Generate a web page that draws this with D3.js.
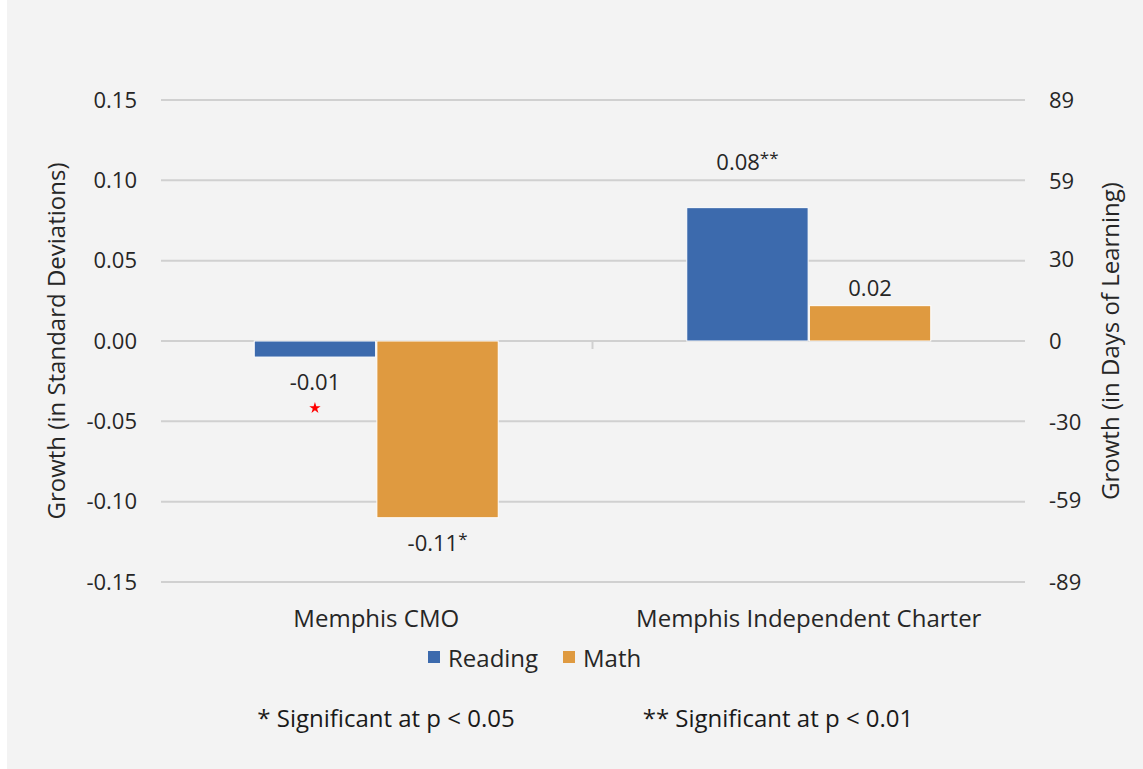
<!DOCTYPE html>
<html>
<head>
<meta charset="utf-8">
<script src="https://cdn.jsdelivr.net/npm/d3@7"></script>
<style>
  body { margin: 0; background: #ffffff; }
  svg { display: block; font-family: "Open Sans", "Noto Sans", sans-serif; }
</style>
</head>
<body>
<svg id="chart" width="1143" height="769"></svg>
<script>
var categories = ['Memphis CMO', 'Memphis Independent Charter']
var series = ['Reading', 'Math']
var reading = [-0.01, 0.083]
var math = [-0.11, 0.022]
var labels = {
  Reading: ['-0.01', '0.08**'],
  Math: ['-0.11*', '0.02']
}
var sdTicks = [-0.15, -0.10, -0.05, 0, 0.05, 0.10, 0.15]
var dayTicks = [-89, -59, -30, 0, 30, 59, 89]
var colors = { Reading: '#3c6aad', Math: '#df9a40' }

var margin = { top: 100, right: 118, bottom: 187, left: 160 }
var width = 1143 - margin.left - margin.right,
    height = 769 - margin.top - margin.bottom;

var svg = d3.select('#chart')
svg.append('rect').attr('x', 7).attr('y', 0).attr('width', 1136).attr('height', 769).attr('fill', '#f3f3f3')

var chart = svg.append('g')
    .attr('transform', `translate(${margin.left}, ${margin.top})`);

var y = d3.scaleLinear().domain([-0.15, 0.15]).range([height, 0])
var yDays = d3.scaleLinear().domain([-89, 89]).range([height, 0])

var x = d3.scaleBand().domain(categories).range([0, width])
var xInner = d3.scaleBand().domain(series).range([0, 244]).paddingInner(0.01)

// gridlines
chart.selectAll('.grid')
    .data(sdTicks)
    .enter().append('line')
    .attr('x1', 1).attr('x2', width)
    .attr('y1', function(d) { return y(d); })
    .attr('y2', function(d) { return y(d); })
    .attr('stroke', '#d0d0d0').attr('stroke-width', 2)

// category separator tick on zero line
chart.append('line')
    .attr('x1', x.step()).attr('x2', x.step())
    .attr('y1', y(0)).attr('y2', y(0) + 8)
    .attr('stroke', '#d0d0d0').attr('stroke-width', 2)

var hyphen = function(s) { return s.replace('\u2212', '-'); }

var leftAxis = d3.axisLeft(y).tickValues(sdTicks)
    .tickFormat(function(d) { return hyphen(d3.format('.2f')(d)); })
    .tickSize(0).tickPadding(23)
var gl = chart.append('g').call(leftAxis)
gl.select('.domain').remove()
gl.selectAll('text').attr('font-size', 22).attr('fill', '#262626').attr('font-family', '"Open Sans", sans-serif')

var rightAxis = d3.axisRight(yDays).tickValues(dayTicks)
    .tickFormat(function(d) { return hyphen(String(d)); })
    .tickSize(0).tickPadding(24)
var gr = chart.append('g').attr('transform', `translate(${width}, 0)`).call(rightAxis)
gr.select('.domain').remove()
gr.selectAll('text').attr('font-size', 22).attr('fill', '#262626').attr('font-family', '"Open Sans", sans-serif')

// bars
var data = categories.map(function(c, i) {
  return { cat: c, vals: [
    { key: 'Reading', v: reading[i], label: labels.Reading[i] },
    { key: 'Math', v: math[i], label: labels.Math[i] }
  ] };
})

var groups = chart.selectAll('.group')
    .data(data)
    .enter().append('g')
    .attr('transform', function(d) { return `translate(${x(d.cat) + x.bandwidth() / 2 - 122}, 0)`; })

groups.selectAll('rect')
    .data(function(d) { return d.vals; })
    .enter().append('rect')
    .attr('x', function(d) { return xInner(d.key); })
    .attr('width', xInner.bandwidth())
    .attr('y', function(d) { return y(Math.max(0, d.v)); })
    .attr('height', function(d) { return Math.abs(y(d.v) - y(0)); })
    .attr('fill', function(d) { return colors[d.key]; })
    .attr('stroke', '#ffffff').attr('stroke-width', 1)

// value labels
groups.selectAll('.lbl')
    .data(function(d) { return d.vals; })
    .enter().append('text')
    .attr('x', function(d) { return xInner(d.key) + xInner.bandwidth() / 2; })
    .attr('y', function(d) {
      if (d.key === 'Reading' && d.v > 0) return y(d.v) - 38;
      return d.v < 0 ? y(d.v) + 33 : y(d.v) - 10;
    })
    .attr('text-anchor', 'middle')
    .attr('font-size', 22).attr('fill', '#262626')
    .each(function(d) {
      var m = d.label.match(/^([-0-9.]+)(\**)$/)
      var t = d3.select(this)
      t.append('tspan').text(m[1])
      if (m[2]) t.append('tspan').attr('dy', -6).attr('font-size', 17).text(m[2])
    })

// red significance star under the CMO reading label
var starX = x(categories[0]) + x.bandwidth() / 2 - 122 + xInner('Reading') + xInner.bandwidth() / 2
chart.append('path')
    .attr('d', d3.symbol(d3.symbolStar, 40)())
    .attr('transform', `translate(${starX}, ${y(-0.01) + 51})`)
    .attr('fill', '#ff0000')

// category labels
chart.selectAll('.cat')
    .data(categories)
    .enter().append('text')
    .attr('x', function(d) { return x(d) + x.bandwidth() / 2; })
    .attr('y', height + 45)
    .attr('text-anchor', 'middle')
    .attr('font-size', 24).attr('fill', '#262626')
    .text(function(d) { return d; })

// axis titles
svg.append('text')
    .attr('transform', `translate(65, ${margin.top + height / 2}) rotate(-90)`)
    .attr('text-anchor', 'middle')
    .attr('font-size', 24).attr('fill', '#262626')
    .text('Growth (in Standard Deviations)')

svg.append('text')
    .attr('transform', `translate(1119, ${margin.top + height / 2}) rotate(-90)`)
    .attr('text-anchor', 'middle')
    .attr('font-size', 24).attr('fill', '#262626')
    .text('Growth (in Days of Learning)')

// legend
var legend = svg.append('g').attr('transform', 'translate(428, 657)')
var legendX = [0, 135]
series.forEach(function(s, i) {
  var g = legend.append('g').attr('transform', `translate(${legendX[i]}, 0)`)
  g.append('rect').attr('x', 0).attr('y', -6).attr('width', 12).attr('height', 12).attr('fill', colors[s])
  g.append('text').attr('x', 20).attr('y', 10).attr('font-size', 24).attr('fill', '#262626').text(s)
})

// footnotes
var notes = ['* Significant at p < 0.05', '** Significant at p < 0.01']
var noteX = [386, 778]
svg.selectAll('.note')
    .data(notes)
    .enter().append('text')
    .attr('x', function(d, i) { return noteX[i]; })
    .attr('y', 727)
    .attr('text-anchor', 'middle')
    .attr('font-size', 24).attr('fill', '#1a1a1a')
    .text(function(d) { return d; })
</script>
</body>
</html>
